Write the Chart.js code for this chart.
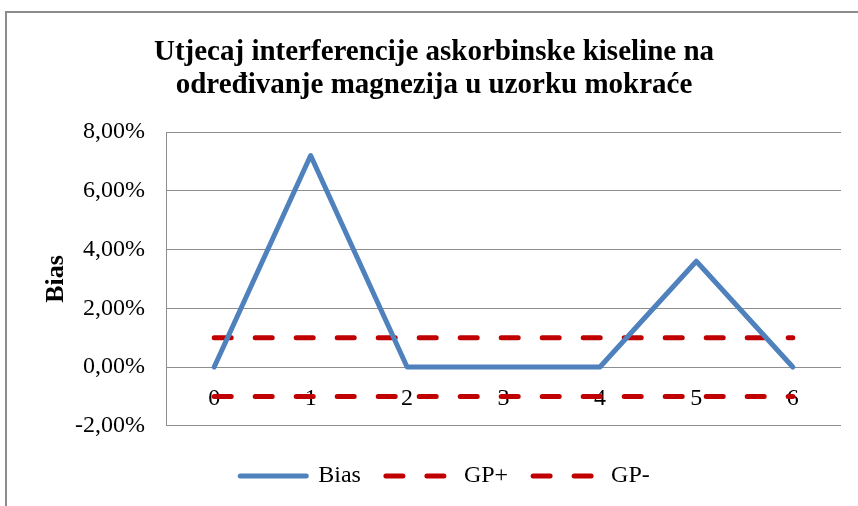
<!DOCTYPE html>
<html>
<head>
<meta charset="utf-8">
<script src="https://cdn.jsdelivr.net/npm/chart.js@4/dist/chart.umd.min.js"></script>
<style>
  html, body { margin: 0; padding: 0; background: #fff; }
  #wrap { position: relative; width: 858px; height: 506px; overflow: hidden; }
  #frame { position: absolute; left: 5px; top: 11px; width: 900px; height: 600px;
           border-left: 2px solid #8c8c8c; border-top: 2px solid #8c8c8c; pointer-events: none; }
  canvas { position: absolute; left: 0; top: 0; }
</style>
</head>
<body>
<div id="wrap">
  <canvas id="c" width="858" height="506"></canvas>
  <div id="frame"></div>
</div>
<script>
const titleLines = ['Utjecaj interferencije askorbinske kiseline na', 'određivanje magnezija u uzorku mokraće'];
const categories = ['0', '1', '2', '3', '4', '5', '6'];
const biasValues = [0, 0.072, 0, 0, 0, 0.036, 0];
const gpPlusValues = [0.01, 0.01, 0.01, 0.01, 0.01, 0.01, 0.01];
const gpMinusValues = [-0.01, -0.01, -0.01, -0.01, -0.01, -0.01, -0.01];
const yTicks = { min: -0.02, max: 0.08, step: 0.02 };
const yAxisTitle = 'Bias';

const serif = "'Liberation Serif', 'Times New Roman', serif";
const gridGray = '#8e8e8e';
const padLeft = 27;

const legendShift = {
  id: 'legendShift',
  afterLayout(chart) {
    if (chart.legend) { chart.legend.left += 11; chart.legend.right += 11; }
  }
};

new Chart(document.getElementById('c'), {
  type: 'line',
  data: {
    labels: categories,
    datasets: [
      { label: 'Bias', data: biasValues, borderColor: '#4F81BD', backgroundColor: '#4F81BD',
        borderWidth: 5, pointRadius: 0, tension: 0, borderCapStyle: 'round', borderJoinStyle: 'round' },
      { label: 'GP+', data: gpPlusValues, borderColor: '#C00000', backgroundColor: '#C00000',
        borderWidth: 5, pointRadius: 0, borderDash: [17, 24], borderCapStyle: 'round' },
      { label: 'GP-', data: gpMinusValues, borderColor: '#C00000', backgroundColor: '#C00000',
        borderWidth: 5, pointRadius: 0, borderDash: [17, 24], borderCapStyle: 'round' }
    ]
  },
  plugins: [legendShift],
  options: {
    responsive: false,
    animation: false,
    devicePixelRatio: 1,
    layout: { padding: { left: padLeft, right: 17, top: 0, bottom: 8 } },
    plugins: {
      title: {
        display: true,
        text: titleLines,
        color: '#000',
        font: { family: serif, size: 29, weight: 'bold', lineHeight: '33px' },
        padding: { top: 36, bottom: 30 }
      },
      legend: {
        position: 'bottom',
        title: { display: true, text: ' ', font: { size: 1 }, padding: { top: 6, bottom: 6 } },
        labels: {
          color: '#000',
          font: { family: serif, size: 24 },
          usePointStyle: true,
          pointStyle: 'line',
          pointStyleWidth: 66,
          padding: 25,
          generateLabels: (chart) => chart.data.datasets.map((ds, i) => ({
            text: ds.label,
            fillStyle: ds.borderColor,
            strokeStyle: ds.borderColor,
            lineWidth: ds.borderWidth,
            lineDash: ds.borderDash || [],
            lineCap: 'round',
            pointStyle: 'line',
            fontColor: '#000',
            hidden: false,
            datasetIndex: i
          }))
        }
      },
      tooltip: { enabled: false }
    },
    scales: {
      x: {
        position: { y: 0 },
        offset: true,
        grid: { display: false, drawTicks: false },
        border: { display: false },
        ticks: { color: '#000', font: { family: serif, size: 24 }, padding: 17, maxRotation: 0 }
      },
      y: {
        min: yTicks.min,
        max: yTicks.max,
        afterFit: (s) => { s.width = 166 - padLeft; },
        grid: { color: gridGray, lineWidth: 1, drawTicks: false },
        border: { display: true, color: gridGray, width: 1 },
        ticks: {
          stepSize: yTicks.step,
          color: '#000',
          padding: 21,
          font: { family: serif, size: 24 },
          callback: (v) => (v * 100).toFixed(2).replace('.', ',') + '%'
        },
        title: {
          display: true,
          text: yAxisTitle,
          color: '#000',
          font: { family: serif, size: 26, weight: 'bold' },
          padding: { top: 14, bottom: 0 }
        }
      }
    }
  }
});
</script>
</body>
</html>
